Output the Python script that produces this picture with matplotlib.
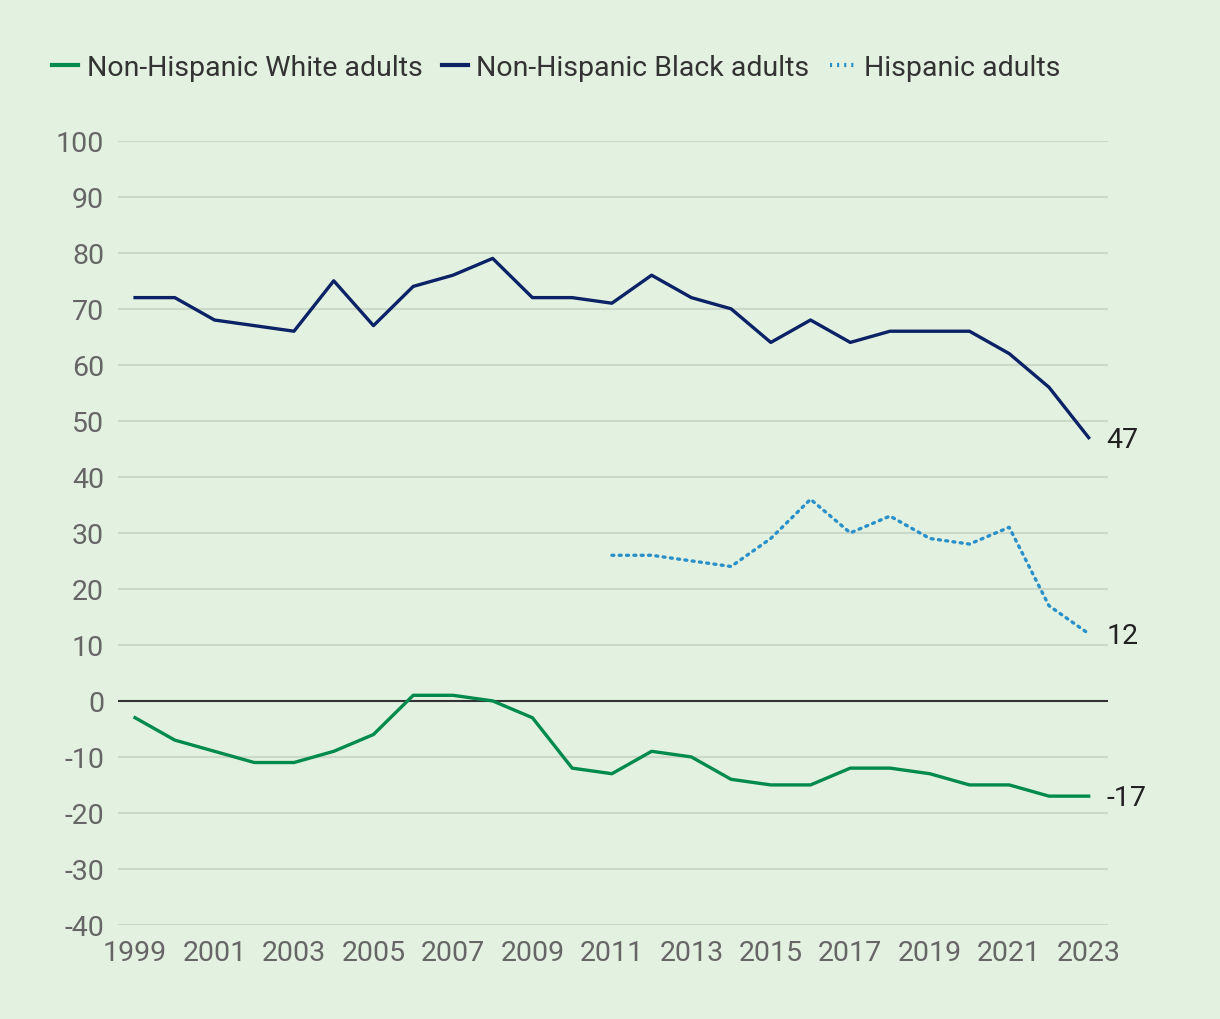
import matplotlib
matplotlib.use("Agg")
import matplotlib.pyplot as plt
from matplotlib.lines import Line2D

# datos
Anios = list(range(1999, 2024))
Blancos = [-3, -7, -9, -11, -11, -9, -6, 1, 1, 0, -3, -12, -13, -9, -10,
           -14, -15, -15, -12, -12, -13, -15, -15, -17, -17]
Negros = [72, 72, 68, 67, 66, 75, 67, 74, 76, 79, 72, 72, 71, 76, 72,
          70, 64, 68, 64, 66, 66, 66, 62, 56, 47]
AniosHisp = list(range(2011, 2024))
Hispanos = [26, 26, 25, 24, 29, 36, 30, 33, 29, 28, 31, 17, 12]

Fondo = "#e3f1e0"
Verde = "#008a4b"
Azul = "#0b2266"
Celeste = "#2a90c9"

plt.rcParams["font.family"] = ["Roboto", "DejaVu Sans"]
plt.rcParams["axes.unicode_minus"] = False

fig = plt.figure(figsize=(12.2, 10.2), dpi=100, facecolor=Fondo)
ax = fig.add_axes([0.0967, 0.0922, 0.8113, 0.7688], facecolor=Fondo)

# lineas de cuadricula
for v in range(-40, 101, 10):
    if v == 0:
        continue
    ax.axhline(v, color="#cbd9c8", lw=1.5, zorder=0)
ax.axhline(0, color="#333333", lw=1.5, zorder=1)

ax.plot(Anios, Blancos, color=Verde, lw=2.4, zorder=3)
ax.plot(Anios, Negros, color=Azul, lw=2.4, zorder=3)
ax.plot(AniosHisp, Hispanos, color=Celeste, lw=2.4, ls=(0, (0.6, 1.6)),
        dash_capstyle="round", zorder=3)

# etiquetas finales
for serie in (Blancos, Negros, Hispanos):
    ax.annotate(str(serie[-1]), xy=(2023, serie[-1]), xytext=(13, -1),
                textcoords="offset points", va="center", ha="left",
                fontsize=20.5, color="#222222")

ax.set_xlim(1998.57, 2023.48)
ax.set_ylim(-40, 100)
ax.set_yticks(range(-40, 101, 10))
ax.set_xticks(range(1999, 2024, 2))
ax.tick_params(axis="both", length=0, labelsize=20.5, labelcolor="#666666")
ax.tick_params(axis="y", pad=10)
ax.tick_params(axis="x", pad=10)
for s in ax.spines.values():
    s.set_visible(False)

# leyenda
Manijas = [
    Line2D([], [], color=Verde, lw=3),
    Line2D([], [], color=Azul, lw=3),
    Line2D([], [], color=Celeste, lw=3, ls=(0, (0.5, 1.2))),
]
fig.legend(Manijas, ["Non-Hispanic White adults", "Non-Hispanic Black adults",
                     "Hispanic adults"],
           loc="center left", bbox_to_anchor=(0.022, 0.933), ncol=3,
           frameon=False, fontsize=20.5, handlelength=0.9, handletextpad=0.3,
           columnspacing=0.7, labelcolor="#333333")

fig.savefig("out.png", dpi=100, facecolor=Fondo)
